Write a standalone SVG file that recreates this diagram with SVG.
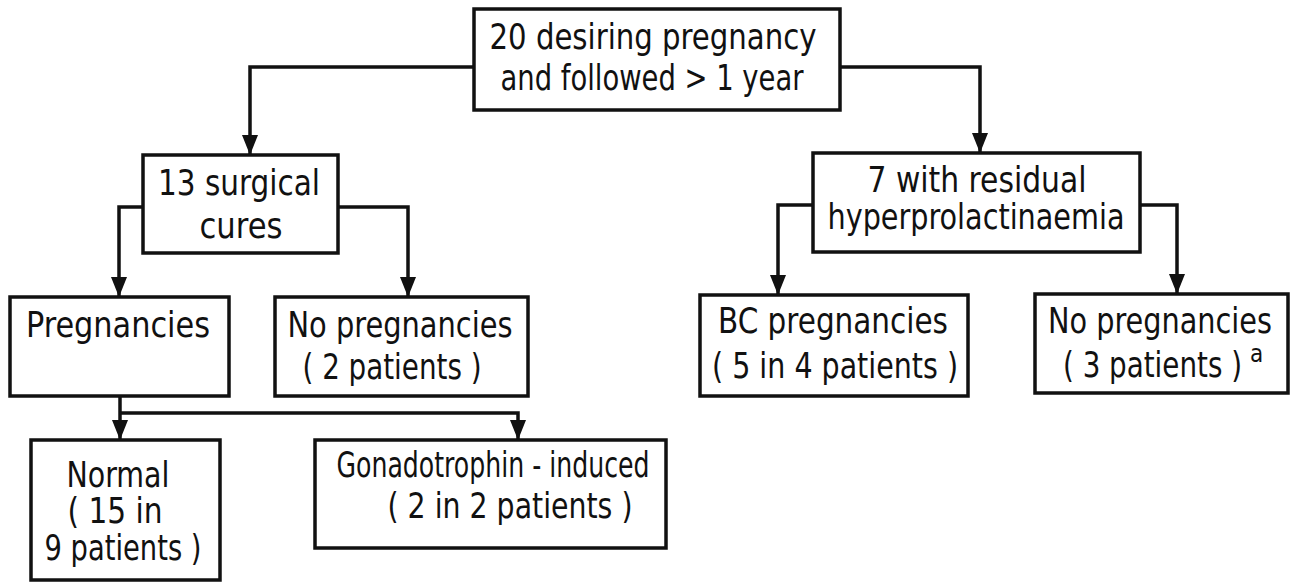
<svg xmlns="http://www.w3.org/2000/svg" width="1296" height="584" viewBox="0 0 1296 584">
<style>
.box{fill:#fff;stroke:#111;stroke-width:3.5}
.t{font-family:"DejaVu Sans Condensed","DejaVu Sans",sans-serif;font-size:35px;fill:#111;text-anchor:middle}
.c{fill:none;stroke:#111;stroke-width:3.5}
</style>
<defs>
<marker id="ah" markerUnits="userSpaceOnUse" markerWidth="20" markerHeight="16" refX="20" refY="8" orient="auto" viewBox="0 0 20 16">
<path d="M0,0 L20,8 L0,16 Z" fill="#111"/>
</marker>
</defs>
<g id="connectors">
<path class="c" d="M474,67 H250 V155" marker-end="url(#ah)"/>
<path class="c" d="M840,67 H980 V153" marker-end="url(#ah)"/>
<path class="c" d="M143,207 H119 V297" marker-end="url(#ah)"/>
<path class="c" d="M338,207 H408 V297" marker-end="url(#ah)"/>
<path class="c" d="M813,205 H778 V295" marker-end="url(#ah)"/>
<path class="c" d="M1140,205 H1177 V294" marker-end="url(#ah)"/>
<path class="c" d="M120,396 V440" marker-end="url(#ah)"/>
<path class="c" d="M120,413 H518 V440" marker-end="url(#ah)"/>
</g>
<g id="n-top"><rect class="box" x="474" y="9" width="366" height="101"/>
<text class="t" x="653" y="49" textLength="327" lengthAdjust="spacingAndGlyphs">20 desiring pregnancy</text><text class="t" x="652" y="90" textLength="303" lengthAdjust="spacingAndGlyphs">and followed &gt; 1 year</text></g>
<g id="n-surgical"><rect class="box" x="143" y="155" width="195" height="98"/>
<text class="t" x="239" y="195" textLength="162" lengthAdjust="spacingAndGlyphs">13 surgical</text><text class="t" x="241" y="238" textLength="83" lengthAdjust="spacingAndGlyphs">cures</text></g>
<g id="n-residual"><rect class="box" x="813" y="153" width="327" height="99"/>
<text class="t" x="977" y="192" textLength="219" lengthAdjust="spacingAndGlyphs">7 with residual</text><text class="t" x="976" y="229" textLength="297" lengthAdjust="spacingAndGlyphs">hyperprolactinaemia</text></g>
<g id="n-preg"><rect class="box" x="10" y="297" width="219" height="99"/>
<text class="t" x="118" y="337" textLength="184" lengthAdjust="spacingAndGlyphs">Pregnancies</text></g>
<g id="n-nopreg1"><rect class="box" x="275" y="297" width="253" height="99"/>
<text class="t" x="400" y="337" textLength="225" lengthAdjust="spacingAndGlyphs">No pregnancies</text><text class="t" x="392" y="379" textLength="179" lengthAdjust="spacingAndGlyphs">( 2 patients )</text></g>
<g id="n-bc"><rect class="box" x="700" y="295" width="268" height="101"/>
<text class="t" x="833" y="333" textLength="230" lengthAdjust="spacingAndGlyphs">BC pregnancies</text><text class="t" x="835" y="378" textLength="246" lengthAdjust="spacingAndGlyphs">( 5 in 4 patients )</text></g>
<g id="n-nopreg2"><rect class="box" x="1035" y="294" width="253" height="99"/>
<text class="t" x="1160" y="333" textLength="224" lengthAdjust="spacingAndGlyphs">No pregnancies</text><text class="t" x="1063" y="377" style="text-anchor:start"><tspan textLength="179" lengthAdjust="spacingAndGlyphs">( 3 patients )</tspan><tspan dx="8" dy="-15" style="font-size:24px">a</tspan></text></g>
<g id="n-normal"><rect class="box" x="31" y="440" width="189" height="140"/>
<text class="t" x="118" y="487" textLength="103" lengthAdjust="spacingAndGlyphs">Normal</text><text class="t" x="115" y="523" textLength="95" lengthAdjust="spacingAndGlyphs">( 15 in</text><text class="t" x="123" y="560" textLength="157" lengthAdjust="spacingAndGlyphs">9 patients )</text></g>
<g id="n-gonado"><rect class="box" x="315" y="440" width="351" height="108"/>
<text class="t" x="493" y="477" textLength="313" lengthAdjust="spacingAndGlyphs">Gonadotrophin - induced</text><text class="t" x="510" y="518" textLength="245" lengthAdjust="spacingAndGlyphs">( 2 in 2 patients )</text></g>
</svg>
